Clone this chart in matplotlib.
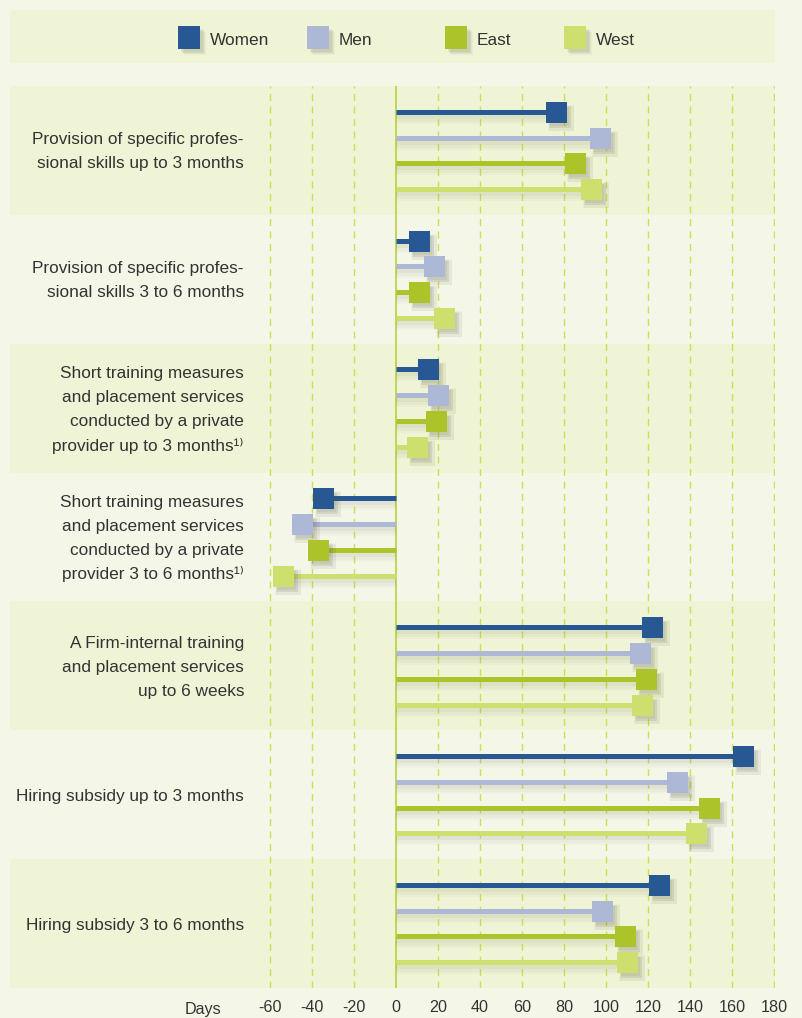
import matplotlib
matplotlib.use("Agg")
import matplotlib.pyplot as plt
import matplotlib.transforms as mtransforms
from matplotlib.patches import Rectangle

FONT = ['Liberation Sans', 'DejaVu Sans']
plt.rcParams['font.family'] = FONT

# ---- data ----
categories = [
    "Provision of specific profes-\nsional skills up to 3 months",
    "Provision of specific profes-\nsional skills 3 to 6 months",
    "Short training measures\nand placement services\nconducted by a private\nprovider up to 3 months\u00b9\u207e",
    "Short training measures\nand placement services\nconducted by a private\nprovider 3 to 6 months\u00b9\u207e",
    "A Firm-internal training\nand placement services\nup to 6 weeks",
    "Hiring subsidy up to 3 months",
    "Hiring subsidy 3 to 6 months",
]
series_names = ["Women", "Men", "East", "West"]
women = [76, 11, 15, -35, 122, 165, 125]
men = [97, 18, 20, -45, 116, 134, 98]
east = [85, 11, 19, -37, 119, 149, 109]
west = [93, 23, 10, -54, 117, 143, 110]
xticks = [-60, -40, -20, 0, 20, 40, 60, 80, 100, 120, 140, 160, 180]
xlabel = "Days"

values = [women, men, east, west]
colors = ["#275894", "#adb7d6", "#adc32a", "#cfdf6e"]
bg = "#f4f6e8"
band_dark = "#eff4d6"
grid_c = "#c8dc3c"
text_c = "#333333"
FS = 12.4

W, H = 803, 1018
fig = plt.figure(figsize=(W / 100, H / 100), dpi=100, facecolor=bg)

# plot panel
px_left, px_right, px_top, px_bot = 10, 775, 86, 988
ax = fig.add_axes([px_left / W, 1 - px_bot / H, (px_right - px_left) / W, (px_bot - px_top) / H])
ax.set_facecolor(bg)
scale = 2.1  # px per day
zero_px = 396
xmin = -(zero_px - px_left) / scale
xmax = (px_right - zero_px) / scale
ax.set_xlim(xmin, xmax)
n = len(categories)
ax.set_ylim(n, 0)
for s in ax.spines.values():
    s.set_visible(False)

# bands
for i in range(n):
    if i % 2 == 0:
        ax.axhspan(i, i + 1, color=band_dark, zorder=0, lw=0)

# grid
for t in xticks:
    if t == 0:
        ax.axvline(0, color="#b9d03a", lw=1.2, zorder=1)
    else:
        ax.axvline(t, color=grid_c, lw=1.0, ls=(0, (5, 4)), alpha=0.85, zorder=1)

offsets = [-0.3, -0.1, 0.1, 0.3]
msize = 21 * 0.72  # points
for si, (vals, col) in enumerate(zip(values, colors)):
    for gi, v in enumerate(vals):
        y = gi + 0.5 + offsets[si]
        # line shadow
        for dy, lw, a in [(4, 6, 0.07), (5, 9, 0.04), (6, 12, 0.03)]:
            tr = mtransforms.offset_copy(ax.transData, fig=fig, x=0, y=-dy, units='dots')
            ax.plot([0, v], [y, y], color="#6b6b50", lw=lw * 0.72, alpha=a,
                    solid_capstyle='butt', transform=tr, zorder=2)
        ax.plot([0, v], [y, y], color=col, lw=5 * 0.72, solid_capstyle='butt', zorder=3)
        # marker shadow (soft)
        for dx, dy, sz, a in [(5, 6, 27, 0.04), (5, 6, 25, 0.05), (4, 5, 23, 0.06),
                              (4, 5, 21, 0.07), (3, 4, 19, 0.08)]:
            tr = mtransforms.offset_copy(ax.transData, fig=fig, x=dx, y=-dy, units='dots')
            ax.scatter([v], [y], s=(sz * 0.72) ** 2, marker='s', color="#5a5a40",
                       alpha=a, lw=0, transform=tr, zorder=4)
        ax.scatter([v], [y], s=msize ** 2, marker='s', color=col, lw=0, zorder=5)

# category labels: each line placed with a fixed 24 px spacing
label_x = -(zero_px - 244) / scale
line_px = 24
for gi, c in enumerate(categories):
    lines = c.split("\n")
    k = len(lines)
    for li, line in enumerate(lines):
        dy = ((k - 1) / 2 - li) * line_px
        tr = mtransforms.offset_copy(ax.transData, fig=fig, x=0, y=dy, units='dots')
        ax.text(label_x, gi + 0.5, line, ha='right', va='center_baseline', fontsize=FS,
                color=text_c, zorder=6, family=FONT, transform=tr)

ax.set_yticks([])
ax.set_xticks(xticks)
ax.set_xticklabels([str(t) for t in xticks])
ax.tick_params(axis='x', length=0, pad=9, labelsize=11.6, labelcolor=text_c)
fig.text(185 / W, 1 - 1008 / H, xlabel, ha='left', va='center_baseline', fontsize=11.6, color=text_c)

# legend panel
lax = fig.add_axes([10 / W, 1 - 63 / H, 765 / W, 53 / H])
lax.set_xlim(0, 765)
lax.set_ylim(53, 0)
lax.set_facecolor(band_dark)
lax.set_xticks([])
lax.set_yticks([])
for s in lax.spines.values():
    s.set_visible(False)
leg_x = [178, 307, 445, 564]
for x0, col, name in zip(leg_x, colors, series_names):
    xl = x0 - 10
    for d, a in [(5, 0.04), (4, 0.06), (3, 0.08), (2, 0.08)]:
        lax.add_patch(Rectangle((xl + d + 1, 16 + d + 1), 22, 23, color="#5a5a40", alpha=a, lw=0))
    lax.add_patch(Rectangle((xl, 16), 22, 23, color=col, lw=0))
    lax.text(xl + 32, 29, name, ha='left', va='center_baseline', fontsize=FS, color=text_c)

fig.savefig("out.png", dpi=100, facecolor=bg)
